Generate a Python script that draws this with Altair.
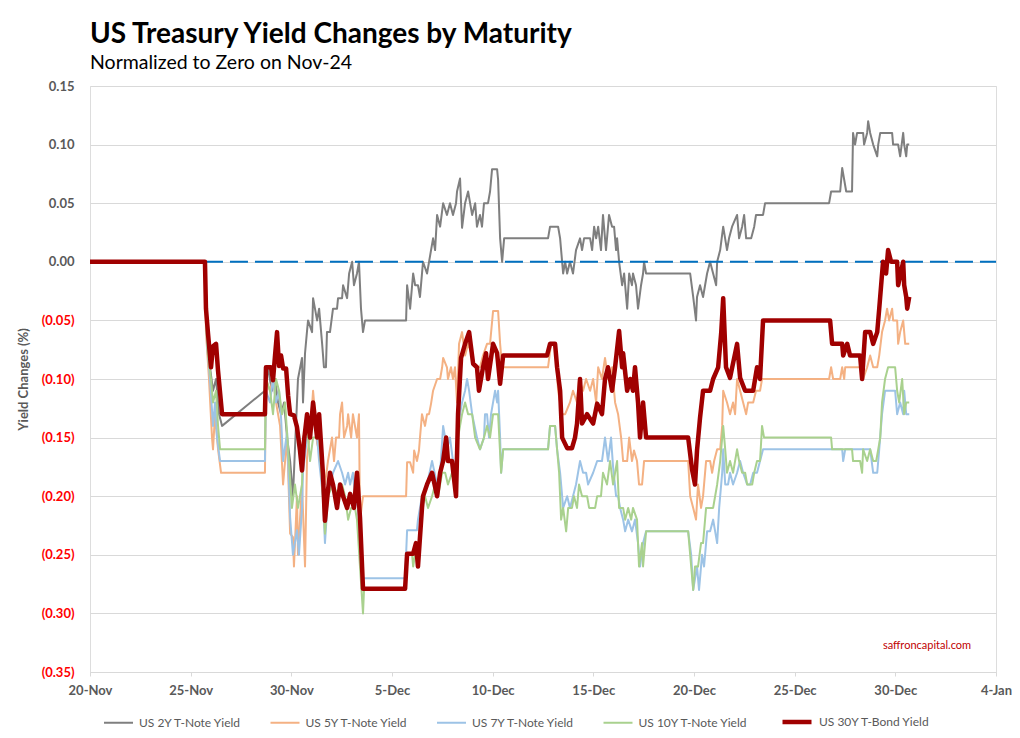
import altair as alt
import pandas as pd

BASE_DATE = "2021-11-20"

SERIES = ["US 2Y T-Note Yield", "US 5Y T-Note Yield", "US 7Y T-Note Yield",
          "US 10Y T-Note Yield", "US 30Y T-Bond Yield"]
COLORS = ["#7F7F7F", "#F4B183", "#9DC3E6", "#A9D18E", "#A00000"]
WIDTHS = [2, 2, 2, 2, 4.5]

# days after 20-Nov, and yield change (%)
y2_days = [0, 5.71, 5.81, 5.96, 6.11, 6.26, 6.41, 6.56, 8.69, 8.84, 9.04, 9.19, 9.34, 9.49, 9.64, 9.79, 9.94,
           10.08, 10.18, 10.33, 10.53, 10.58, 10.68, 10.78, 10.83, 11.03, 11.08, 11.28, 11.38, 11.53, 11.62,
           11.72, 11.77, 11.92, 12.07, 12.27, 12.32, 12.52, 12.57, 12.77, 12.87, 13.02, 13.11, 13.26, 13.36,
           13.46, 13.56, 13.66, 15.70, 15.75, 15.90, 16.05, 16.15, 16.29, 16.39, 16.54, 16.74, 16.84, 17.04,
           17.14, 17.24, 17.39, 17.54, 17.73, 17.88, 18.03, 18.18, 18.23, 18.38, 18.48, 18.63, 18.78, 18.98,
           19.13, 19.22, 19.37, 19.47, 19.57, 19.77, 19.87, 19.97, 20.22, 20.27, 20.37, 20.47, 20.57, 22.75,
           22.85, 23.25, 23.35, 23.45, 23.50, 23.60, 23.70, 23.84, 23.99, 24.14, 24.34, 24.44, 24.54, 24.84,
           24.94, 25.04, 25.14, 25.24, 25.38, 25.48, 25.63, 25.78, 25.93, 26.03, 26.13, 26.18, 26.28, 26.43,
           26.53, 26.63, 26.68, 26.78, 26.92, 26.97, 27.12, 27.22, 27.37, 27.47, 27.52, 27.62, 29.81, 29.96,
           30.10, 30.15, 30.30, 30.45, 30.55, 30.65, 30.80, 30.95, 31.10, 31.15, 31.30, 31.45, 31.64, 31.74,
           31.89, 32.14, 32.24, 32.39, 32.49, 32.59, 32.84, 32.99, 33.08, 33.43, 33.53, 36.71, 36.81, 37.26,
           37.36, 37.46, 37.56, 37.85, 37.90, 38.00, 38.10, 38.40, 38.45, 38.60, 38.65, 38.75, 38.90, 39.10,
           39.15, 39.25, 39.84, 39.89, 40.14, 40.24, 40.39, 40.44, 40.54, 40.59, 40.69]
y2_vals = [0, 0, -0.05, -0.09, -0.11, -0.10, -0.13, -0.14, -0.11, -0.091, -0.11, -0.10, -0.12, -0.13, -0.12,
           -0.15, -0.17, -0.20, -0.16, -0.10, -0.082, -0.12, -0.078, -0.059, -0.05, -0.06, -0.031, -0.05,
           -0.04, -0.07, -0.09, -0.09, -0.06, -0.06, -0.04, -0.04, -0.031, -0.031, -0.02, -0.031, -0.01, 0.0,
           -0.02, -0.01, 0.0, -0.04, -0.06, -0.05, -0.05, -0.02, -0.04, -0.01, -0.02, -0.02, -0.03, 0.0,
           -0.01, 0.0, 0.02, 0.01, 0.04, 0.03, 0.05, 0.04, 0.05, 0.04, 0.05, 0.06, 0.071, 0.029, 0.05, 0.06,
           0.04, 0.05, 0.03, 0.04, 0.03, 0.05, 0.05, 0.06, 0.079, 0.079, 0.07, 0.02, 0.0, 0.02, 0.02, 0.03,
           0.03, 0.02, 0.0, -0.01, 0.0, -0.01, 0.0, -0.01, 0.01, 0.02, 0.01, 0.02, 0.02, 0.01, 0.03, 0.02,
           0.03, 0.01, 0.04, 0.01, 0.04, 0.03, 0.03, 0.01, 0.02, 0.0, -0.02, -0.01, -0.03, -0.04, -0.01, -0.02,
           -0.01, -0.02, -0.04, -0.02, -0.01, 0.0, -0.01, -0.01, -0.03, -0.05, -0.03, -0.02, -0.03, -0.02,
           -0.01, 0.0, -0.01, -0.02, 0.0, 0.01, 0.03, 0.01, 0.02, 0.03, 0.04, 0.02, 0.03, 0.04, 0.02, 0.02,
           0.03, 0.04, 0.04, 0.05, 0.05, 0.06, 0.06, 0.08, 0.07, 0.06, 0.06, 0.11, 0.10, 0.11, 0.11, 0.10,
           0.11, 0.12, 0.11, 0.10, 0.09, 0.10, 0.11, 0.11, 0.10, 0.10, 0.09, 0.11, 0.10, 0.09, 0.10, 0.10]

y5_days = [0, 5.71, 5.76, 5.91, 6.06, 6.11, 6.21, 6.36, 6.51, 8.69, 8.74, 8.94, 9.09, 9.24, 9.44, 9.59, 9.79,
           9.94, 10.08, 10.13, 10.28, 10.33, 10.53, 10.68, 10.78, 10.93, 11.08, 11.18, 11.28, 11.53, 11.67,
           11.82, 12.02, 12.12, 12.22, 12.37, 12.42, 12.52, 12.62, 12.77, 12.82, 12.97, 13.06, 13.16, 13.26,
           13.36, 13.41, 13.56, 15.70, 15.75, 15.90, 16.05, 16.10, 16.24, 16.34, 16.39, 16.49, 16.64, 16.74,
           16.84, 16.94, 17.04, 17.24, 17.39, 17.49, 17.54, 17.73, 17.78, 17.93, 18.03, 18.13, 18.23, 18.33,
           18.48, 18.63, 18.78, 18.98, 19.13, 19.37, 19.52, 19.72, 19.87, 20.02, 20.27, 20.37, 20.47, 22.75,
           22.90, 23.10, 23.25, 23.45, 23.60, 23.84, 23.99, 24.19, 24.29, 24.49, 24.64, 24.84, 24.99, 25.14,
           25.24, 25.43, 25.58, 25.73, 25.93, 26.08, 26.23, 26.38, 26.48, 26.68, 26.78, 26.92, 27.02, 27.17,
           27.27, 27.42, 27.52, 29.71, 29.81, 29.96, 30.10, 30.20, 30.35, 30.45, 30.60, 30.80, 30.90, 31.00,
           31.15, 31.30, 31.40, 31.45, 31.64, 31.79, 31.94, 32.04, 32.14, 32.29, 32.44, 32.59, 32.69, 32.94,
           33.08, 33.28, 33.38, 36.71, 36.81, 36.91, 37.26, 37.36, 37.46, 37.51, 38.35, 38.40, 38.60, 38.75,
           38.90, 39.10, 39.20, 39.34, 39.49, 39.59, 39.69, 39.84, 39.89, 40.09, 40.14, 40.24, 40.39, 40.49,
           40.69]
y5_vals = [0, 0, -0.06, -0.10, -0.15, -0.16, -0.13, -0.16, -0.18, -0.18, -0.10, -0.11, -0.10, -0.12, -0.14,
           -0.19, -0.15, -0.232, -0.235, -0.26, -0.20, -0.25, -0.19, -0.26, -0.167, -0.147, -0.11, -0.13,
           -0.155, -0.17, -0.19, -0.17, -0.15, -0.17, -0.15, -0.15, -0.13, -0.12, -0.15, -0.14, -0.13, -0.15,
           -0.13, -0.14, -0.15, -0.13, -0.221, -0.20, -0.20, -0.171, -0.171, -0.18, -0.161, -0.17, -0.161,
           -0.15, -0.13, -0.14, -0.13, -0.13, -0.121, -0.11, -0.10, -0.10, -0.09, -0.082, -0.09, -0.10, -0.09,
           -0.10, -0.09, -0.12, -0.07, -0.06, -0.08, -0.07, -0.08, -0.09, -0.09, -0.08, -0.07, -0.07, -0.042,
           -0.042, -0.07, -0.09, -0.09, -0.07, -0.07, -0.11, -0.13, -0.13, -0.12, -0.11, -0.12, -0.10, -0.11,
           -0.10, -0.11, -0.10, -0.12, -0.09, -0.10, -0.082, -0.10, -0.09, -0.12, -0.13, -0.15, -0.17, -0.17,
           -0.15, -0.17, -0.161, -0.17, -0.19, -0.19, -0.17, -0.17, -0.20, -0.21, -0.22, -0.19, -0.21, -0.20,
           -0.17, -0.17, -0.18, -0.17, -0.16, -0.16, -0.14, -0.11, -0.12, -0.13, -0.12, -0.13, -0.10, -0.11,
           -0.12, -0.13, -0.12, -0.12, -0.11, -0.11, -0.10, -0.10, -0.09, -0.10, -0.10, -0.09, -0.10, -0.09,
           -0.09, -0.10, -0.09, -0.08, -0.09, -0.09, -0.08, -0.06, -0.05, -0.04, -0.05, -0.04, -0.05, -0.05,
           -0.07, -0.06, -0.05, -0.07, -0.07]

y7_days = [0, 5.71, 5.81, 5.96, 6.11, 6.21, 6.31, 6.46, 8.69, 8.74, 8.94, 9.09, 9.24, 9.39, 9.49, 9.59, 9.79,
           9.94, 10.08, 10.28, 10.38, 10.53, 10.58, 10.78, 10.93, 11.08, 11.28, 11.38, 11.57, 11.67, 11.82,
           12.07, 12.32, 12.52, 12.67, 12.82, 12.92, 13.06, 13.16, 13.31, 13.51, 13.56, 15.65, 15.75, 16.24,
           16.29, 16.49, 16.74, 16.99, 17.24, 17.39, 17.54, 17.64, 17.73, 17.88, 18.03, 18.13, 18.28, 18.48,
           18.63, 18.73, 18.83, 18.98, 19.22, 19.37, 19.57, 19.62, 19.72, 19.82, 19.92, 20.02, 20.12, 20.22,
           20.27, 20.37, 20.42, 20.52, 22.75, 22.85, 23.10, 23.20, 23.35, 23.45, 23.50, 23.70, 23.84, 23.99,
           24.14, 24.24, 24.34, 24.49, 24.64, 24.74, 24.99, 25.19, 25.43, 25.58, 25.73, 25.88, 25.98, 26.13,
           26.23, 26.33, 26.48, 26.58, 26.73, 26.92, 27.07, 27.22, 27.32, 27.47, 27.62, 29.71, 29.86, 29.96,
           30.15, 30.25, 30.40, 30.50, 30.65, 30.80, 30.95, 31.15, 31.25, 31.40, 31.45, 31.55, 31.69, 31.79,
           31.94, 32.14, 32.29, 32.44, 32.64, 32.79, 32.94, 33.13, 33.28, 33.43, 37.36, 37.41, 37.51, 38.75,
           38.90, 39.10, 39.20, 39.34, 39.49, 39.99, 40.09, 40.24, 40.39, 40.44, 40.54, 40.69]
y7_vals = [0, 0, -0.07, -0.10, -0.14, -0.12, -0.15, -0.17, -0.17, -0.11, -0.12, -0.10, -0.12, -0.11, -0.133,
           -0.17, -0.145, -0.218, -0.25, -0.229, -0.25, -0.21, -0.18, -0.15, -0.15, -0.13, -0.15, -0.17, -0.20,
           -0.24, -0.20, -0.18, -0.17, -0.18, -0.19, -0.18, -0.19, -0.18, -0.20, -0.21, -0.26, -0.27, -0.27,
           -0.229, -0.229, -0.22, -0.20, -0.19, -0.17, -0.19, -0.18, -0.14, -0.15, -0.16, -0.15, -0.17, -0.18,
           -0.14, -0.12, -0.11, -0.10, -0.11, -0.13, -0.15, -0.16, -0.15, -0.13, -0.13, -0.15, -0.13, -0.12,
           -0.11, -0.12, -0.11, -0.15, -0.18, -0.16, -0.16, -0.14, -0.14, -0.16, -0.18, -0.20, -0.21, -0.20,
           -0.21, -0.20, -0.19, -0.18, -0.17, -0.18, -0.18, -0.19, -0.18, -0.17, -0.17, -0.15, -0.17, -0.15,
           -0.175, -0.20, -0.20, -0.21, -0.22, -0.23, -0.22, -0.23, -0.22, -0.24, -0.26, -0.24, -0.23, -0.23,
           -0.25, -0.28, -0.26, -0.28, -0.25, -0.26, -0.23, -0.23, -0.22, -0.24, -0.21, -0.18, -0.16, -0.19,
           -0.19, -0.18, -0.19, -0.18, -0.17, -0.18, -0.19, -0.19, -0.18, -0.18, -0.17, -0.16, -0.16, -0.17,
           -0.16, -0.16, -0.18, -0.18, -0.16, -0.13, -0.11, -0.11, -0.13, -0.12, -0.13, -0.11, -0.13, -0.13]

y10_days = [0, 5.71, 5.76, 5.86, 6.01, 6.11, 6.26, 6.36, 6.46, 8.69, 8.74, 8.94, 9.09, 9.24, 9.39, 9.54, 9.69,
            9.84, 10.03, 10.18, 10.33, 10.53, 10.58, 10.78, 10.93, 11.08, 11.38, 11.53, 11.67, 11.82, 12.07,
            12.32, 12.52, 12.67, 12.82, 12.97, 13.16, 13.26, 13.41, 13.56, 13.61, 15.65, 15.75, 16.00, 16.05,
            16.24, 16.34, 16.49, 16.64, 16.79, 16.99, 17.14, 17.29, 17.49, 17.64, 17.78, 17.98, 18.13, 18.28,
            18.48, 18.63, 18.78, 18.98, 19.13, 19.37, 19.57, 19.72, 19.87, 20.02, 20.27, 20.42, 20.52, 22.75,
            22.85, 23.10, 23.20, 23.30, 23.40, 23.50, 23.65, 23.75, 23.94, 24.04, 24.19, 24.29, 24.44, 24.69,
            24.79, 25.09, 25.19, 25.38, 25.48, 25.68, 25.83, 25.98, 26.18, 26.28, 26.48, 26.58, 26.73, 26.88,
            26.97, 27.17, 27.27, 27.42, 27.47, 27.62, 29.71, 29.86, 29.96, 30.05, 30.20, 30.35, 30.45, 30.60,
            30.95, 31.15, 31.30, 31.45, 31.55, 31.64, 31.79, 31.94, 32.14, 32.24, 32.39, 32.54, 32.64, 32.89,
            32.99, 33.13, 33.28, 33.38, 33.48, 36.81, 36.86, 37.85, 37.90, 38.25, 38.35, 38.40, 38.60, 38.75,
            38.90, 39.05, 39.15, 39.25, 39.34, 39.49, 39.64, 39.99, 40.09, 40.19, 40.34, 40.44, 40.54, 40.69]
y10_vals = [0, 0, -0.05, -0.08, -0.10, -0.12, -0.11, -0.14, -0.16, -0.16, -0.10, -0.11, -0.13, -0.10, -0.11,
            -0.13, -0.12, -0.16, -0.21, -0.19, -0.21, -0.19, -0.15, -0.14, -0.17, -0.15, -0.15, -0.19, -0.232,
            -0.20, -0.19, -0.20, -0.19, -0.20, -0.22, -0.21, -0.21, -0.22, -0.26, -0.30, -0.28, -0.28, -0.25,
            -0.25, -0.26, -0.24, -0.24, -0.21, -0.20, -0.21, -0.20, -0.19, -0.20, -0.18, -0.18, -0.19, -0.18,
            -0.19, -0.15, -0.13, -0.12, -0.13, -0.13, -0.15, -0.16, -0.15, -0.14, -0.15, -0.13, -0.13, -0.18,
            -0.16, -0.16, -0.14, -0.14, -0.16, -0.18, -0.22, -0.21, -0.23, -0.21, -0.21, -0.20, -0.21, -0.19,
            -0.20, -0.20, -0.21, -0.21, -0.20, -0.20, -0.18, -0.19, -0.17, -0.19, -0.17, -0.21, -0.21, -0.22,
            -0.21, -0.22, -0.21, -0.22, -0.26, -0.24, -0.26, -0.23, -0.23, -0.26, -0.28, -0.26, -0.26, -0.24,
            -0.24, -0.21, -0.21, -0.19, -0.17, -0.14, -0.16, -0.18, -0.17, -0.18, -0.16, -0.17, -0.18, -0.18,
            -0.19, -0.19, -0.18, -0.17, -0.17, -0.14, -0.15, -0.15, -0.16, -0.16, -0.17, -0.17, -0.18, -0.16,
            -0.17, -0.16, -0.17, -0.17, -0.16, -0.15, -0.12, -0.10, -0.09, -0.09, -0.11, -0.12, -0.10, -0.13,
            -0.12, -0.12]

y30_days = [0, 5.71, 5.76, 5.86, 6.01, 6.11, 6.26, 6.36, 6.56, 8.69, 8.74, 8.99, 9.09, 9.19, 9.29, 9.39, 9.49,
            9.59, 9.74, 9.84, 9.94, 10.13, 10.28, 10.43, 10.53, 10.63, 10.78, 10.93, 11.08, 11.28, 11.38, 11.57,
            11.67, 11.82, 11.92, 12.07, 12.27, 12.42, 12.57, 12.77, 12.92, 13.11, 13.26, 13.41, 13.56, 15.65,
            15.75, 16.05, 16.19, 16.29, 16.49, 16.54, 16.74, 16.99, 17.24, 17.39, 17.54, 17.69, 17.78, 17.98,
            18.18, 18.28, 18.43, 18.63, 18.83, 19.03, 19.22, 19.32, 19.52, 19.67, 19.77, 20.02, 20.22, 20.37,
            20.52, 22.70, 22.85, 23.10, 23.20, 23.35, 23.45, 23.70, 23.94, 24.09, 24.19, 24.34, 24.44, 24.69,
            24.99, 25.19, 25.43, 25.58, 25.73, 25.93, 26.08, 26.28, 26.43, 26.48, 26.68, 26.83, 26.97, 27.07,
            27.22, 27.32, 27.47, 27.62, 29.71, 29.91, 30.05, 30.15, 30.30, 30.45, 30.80, 30.95, 31.20, 31.35,
            31.45, 31.59, 31.79, 32.14, 32.29, 32.54, 32.94, 33.13, 33.28, 33.43, 36.76, 36.86, 37.36, 37.41,
            37.61, 37.75, 38.25, 38.35, 38.50, 38.75, 38.90, 39.10, 39.20, 39.39, 39.54, 39.64, 39.79, 40.09,
            40.14, 40.39, 40.44, 40.54, 40.59, 40.69]
y30_vals = [0, 0, -0.04, -0.061, -0.09, -0.072, -0.07, -0.093, -0.13, -0.13, -0.09, -0.09, -0.101, -0.08,
            -0.06, -0.089, -0.08, -0.091, -0.091, -0.114, -0.13, -0.131, -0.141, -0.161, -0.178, -0.153, -0.13,
            -0.15, -0.12, -0.15, -0.13, -0.181, -0.221, -0.195, -0.18, -0.19, -0.21, -0.19, -0.20, -0.21,
            -0.198, -0.21, -0.18, -0.218, -0.279, -0.279, -0.249, -0.249, -0.24, -0.26, -0.21, -0.20, -0.19,
            -0.18, -0.20, -0.18, -0.17, -0.15, -0.17, -0.17, -0.20, -0.13, -0.082, -0.07, -0.06, -0.087, -0.09,
            -0.11, -0.09, -0.078, -0.10, -0.07, -0.078, -0.104, -0.08, -0.08, -0.07, -0.07, -0.09, -0.11, -0.15,
            -0.159, -0.159, -0.15, -0.138, -0.10, -0.138, -0.13, -0.138, -0.121, -0.13, -0.10, -0.09, -0.11,
            -0.09, -0.059, -0.09, -0.078, -0.11, -0.10, -0.11, -0.09, -0.12, -0.15, -0.12, -0.15, -0.15, -0.178,
            -0.19, -0.161, -0.133, -0.11, -0.11, -0.10, -0.09, -0.061, -0.031, -0.09, -0.099, -0.07, -0.099,
            -0.11, -0.11, -0.09, -0.10, -0.05, -0.05, -0.07, -0.07, -0.08, -0.07, -0.08, -0.08, -0.10, -0.06,
            -0.06, -0.07, -0.06, -0.04, 0.0, -0.01, 0.01, 0.0, 0.0, -0.02, 0.0, -0.02, -0.03, -0.04, -0.03]

zero_days = [5.71, 45]
zero_vals = [0, 0]

X_TICKS = ["2021-11-20", "2021-11-25", "2021-11-30", "2021-12-05", "2021-12-10", "2021-12-15",
           "2021-12-20", "2021-12-25", "2021-12-30", "2022-01-04"]
Y_TICKS = [0.15, 0.10, 0.05, 0.0, -0.05, -0.10, -0.15, -0.20, -0.25, -0.30, -0.35]

base = pd.Timestamp(BASE_DATE)
rows = []
for name, days, vals in zip(SERIES, [y2_days, y5_days, y7_days, y10_days, y30_days],
                            [y2_vals, y5_vals, y7_vals, y10_vals, y30_vals]):
    for d, v in zip(days, vals):
        rows.append({"series": name, "date": base + pd.Timedelta(days=d), "value": v})
df = pd.DataFrame(rows)
zero_df = pd.DataFrame({"date": [base + pd.Timedelta(days=d) for d in zero_days], "value": zero_vals})


def dt(s):
    t = pd.Timestamp(s)
    return alt.DateTime(year=t.year, month=t.month, date=t.day)


FONT = "Lato"
GREY = "#595959"

x_enc = alt.X("date:T",
              scale=alt.Scale(domain=[dt(X_TICKS[0]), dt(X_TICKS[-1])]),
              axis=alt.Axis(values=[dt(s) for s in X_TICKS], format="%-d-%b", title=None, grid=False,
                            labelFont=FONT, labelFontSize=13, labelFontWeight="bold", labelColor=GREY,
                            domainColor="#D9D9D9", tickColor="#D9D9D9", tickSize=4, labelPadding=8,
                            labelOverlap=False, labelBound=False, labelFlush=False))
y_enc = alt.Y("value:Q",
              scale=alt.Scale(domain=[-0.35, 0.15], nice=False, zero=False),
              axis=alt.Axis(values=Y_TICKS, title="Yield Changes (%)",
                            labelExpr="datum.value < 0 ? '(' + format(-datum.value, '.2f') + ')' : format(datum.value, '.2f')",
                            labelColor={"condition": {"test": "datum.value < 0", "value": "#FF0000"}, "value": GREY},
                            labelFont=FONT, labelFontSize=13, labelFontWeight="bold", labelPadding=16,
                            ticks=False, domain=False, grid=True, gridColor="#D9D9D9", gridWidth=1,
                            titleFont=FONT, titleFontSize=13, titleFontWeight="bold", titleColor=GREY,
                            titleX=-60, titleY=293))

legend = alt.Legend(title=None, orient="none", legendX=13, legendY=619, direction="horizontal",
                    symbolType="stroke", symbolSize=841, labelFont=FONT, labelFontSize=12,
                    labelColor=GREY, labelOffset=5, columnPadding=24.5, padding=0)
color_enc = alt.Color("series:N", scale=alt.Scale(domain=SERIES, range=COLORS), legend=legend)
width_enc = alt.StrokeWidth("series:N", scale=alt.Scale(type="ordinal", domain=SERIES, range=WIDTHS),
                            legend=legend)

others = alt.Chart(df[df["series"] != SERIES[-1]]).mark_line(strokeJoin="round").encode(
    x=x_enc, y=y_enc, color=color_enc, strokeWidth=width_enc)

zero_line = alt.Chart(zero_df).mark_line(color="#0070C0", strokeWidth=2, strokeDash=[18, 7]).encode(
    x="date:T", y="value:Q")

bond = alt.Chart(df[df["series"] == SERIES[-1]]).mark_line(strokeJoin="round").encode(
    x=x_enc, y=y_enc, color=color_enc, strokeWidth=width_enc)

mark_note = alt.Chart(pd.DataFrame({"t": ["saffroncapital.com"]})).mark_text(
    font=FONT, fontSize=11, color="#C00000", align="center", baseline="middle").encode(
    text="t:N", x=alt.value(837), y=alt.value(560))

chart = alt.layer(others, zero_line, bond, mark_note).properties(
    width=906, height=586,
    padding={"left": 82, "top": 78, "right": 16, "bottom": 62},
    autosize=alt.AutoSizeParams(type="none"),
    title=alt.TitleParams(text="US Treasury Yield Changes by Maturity",
                          subtitle="Normalized to Zero on Nov-24",
                          anchor="start", frame="group", font=FONT, fontSize=28, fontWeight="bold",
                          color="#000000", subtitleFont=FONT, subtitleFontSize=19.5,
                          subtitleColor="#000000", subtitlePadding=5, offset=8),
).configure_view(stroke=None).configure(background="white")

chart.save("out.html", embed_options={"renderer": "svg", "actions": False})
